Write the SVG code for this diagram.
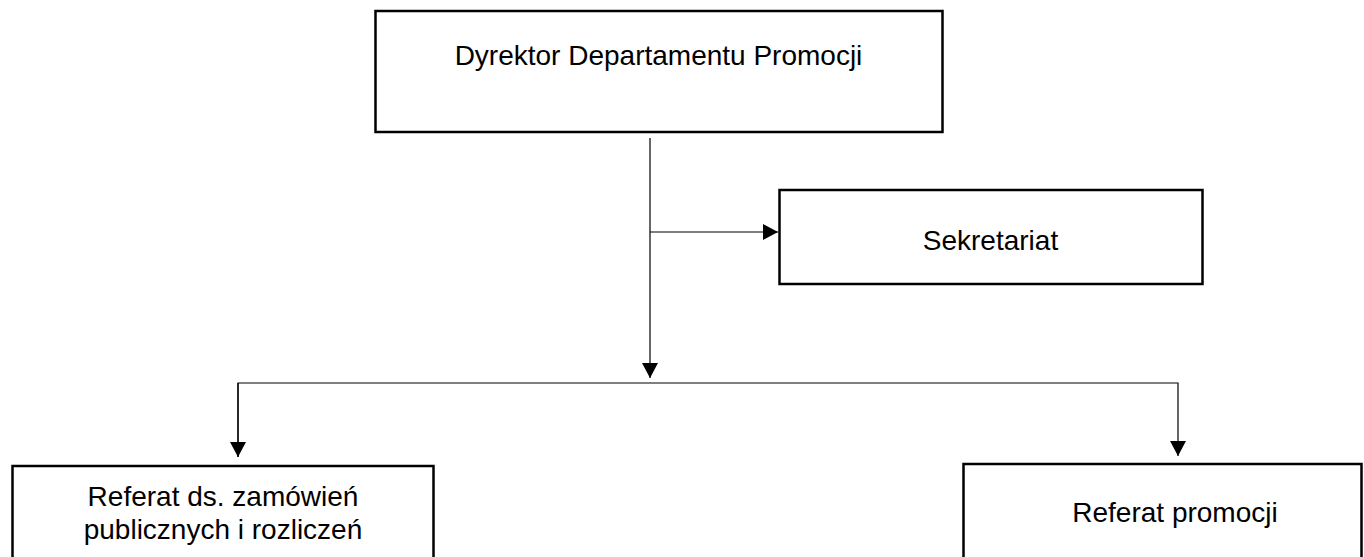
<svg xmlns="http://www.w3.org/2000/svg" width="1364" height="557" viewBox="0 0 1364 557">
<defs>
<style>
.box{fill:#fff;stroke:#000;stroke-width:2.5}
.lbl{font-family:"Liberation Sans",Arial,sans-serif;font-size:28px;fill:#000;text-anchor:middle}
.con{fill:none;stroke:#000;stroke-width:1.2}
</style>
<marker id="ah" markerWidth="16" markerHeight="16" viewBox="0 0 16 16" refX="15" refY="8" orient="auto" markerUnits="userSpaceOnUse">
<path d="M0,0 L15,8 L0,16 Z" fill="#000"/>
</marker>
</defs>
<rect width="1364" height="557" fill="#fff"/>
<g id="connectors">
<path class="con" d="M650,138 V378" marker-end="url(#ah)"/>
<path class="con" d="M650,232 H778" marker-end="url(#ah)"/>
<path class="con" d="M238,457 V383 H1178 V456" marker-end="url(#ah)"/>
<path class="con" d="M238,383 V457" marker-end="url(#ah)"/>
</g>
<g id="node-dyrektor">
<rect class="box" x="375.5" y="11" width="567" height="121"/>
<text class="lbl" x="658.5" y="65">Dyrektor Departamentu Promocji</text>
</g>
<g id="node-sekretariat">
<rect class="box" x="779.5" y="190" width="423" height="94"/>
<text class="lbl" x="990.5" y="250">Sekretariat</text>
</g>
<g id="node-zamowienia">
<rect class="box" x="12.5" y="466" width="421" height="100"/>
<text class="lbl" x="223" y="506">Referat ds. zamówień</text>
<text class="lbl" x="223" y="539">publicznych i rozliczeń</text>
</g>
<g id="node-promocja">
<rect class="box" x="963.5" y="464" width="398" height="100"/>
<text class="lbl" x="1175" y="522">Referat promocji</text>
</g>
</svg>
